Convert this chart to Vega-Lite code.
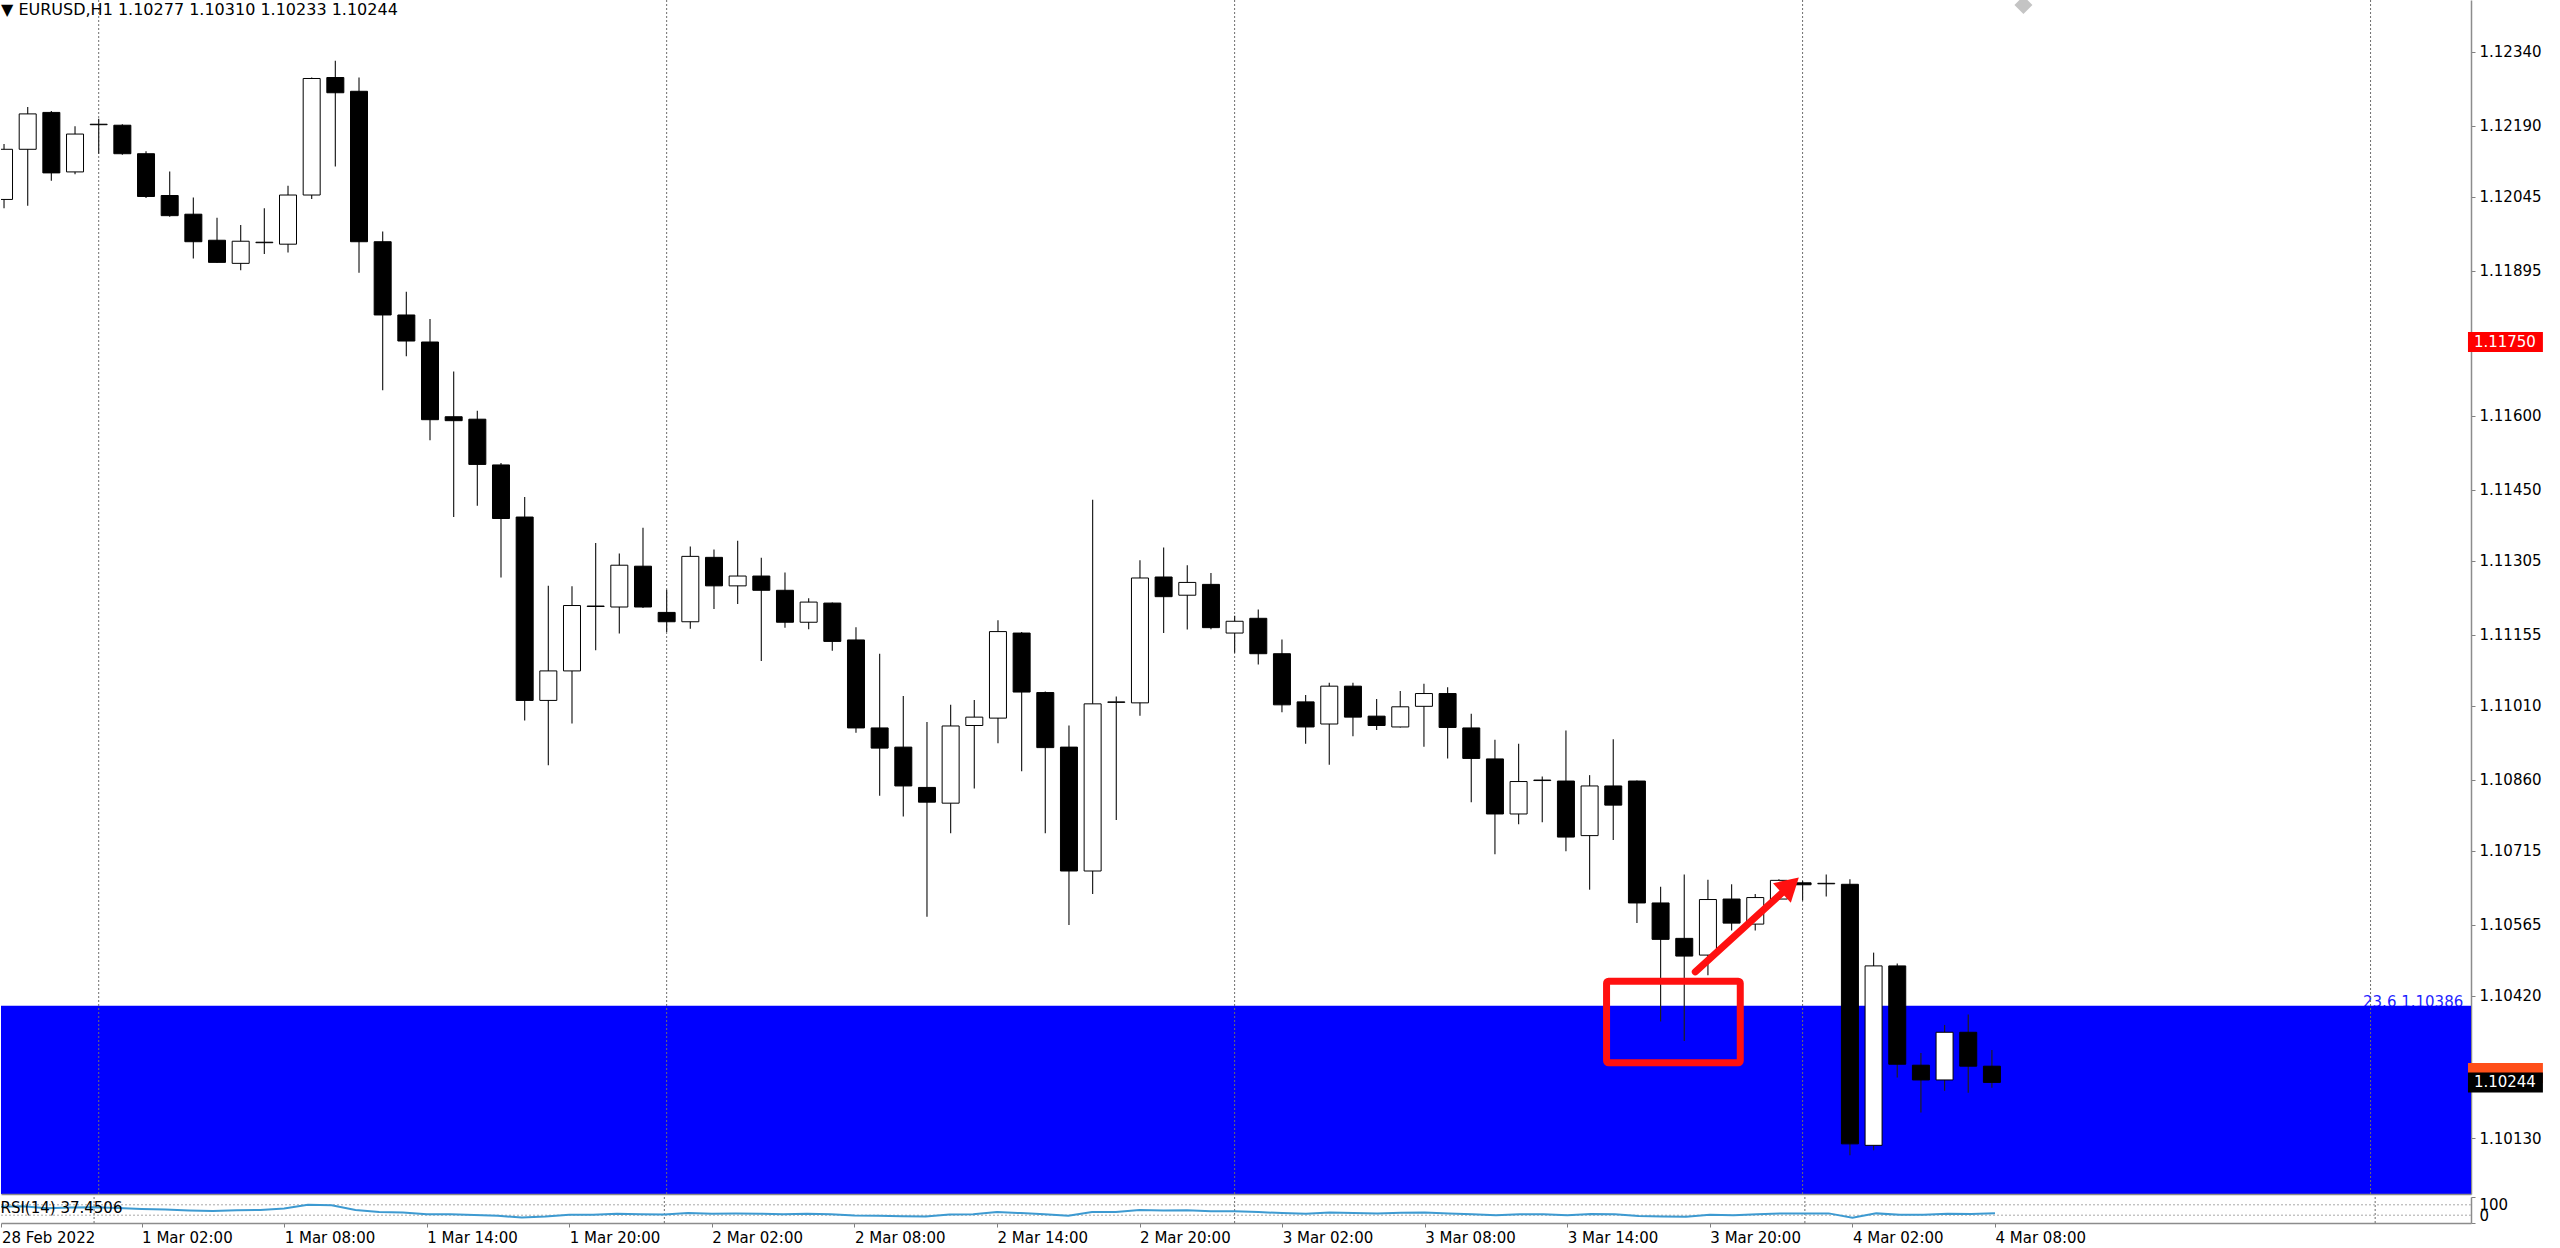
{
  "$schema": "https://vega.github.io/schema/vega-lite/v6.json",
  "background": "#ffffff",
  "padding": 0,
  "spacing": 2,
  "config": {
    "view": {"stroke": null},
    "font": "DejaVu Sans",
    "axis": {"labelFont": "DejaVu Sans", "labelFontSize": 15, "labelColor": "#000000", "tickColor": "#808080", "domainColor": "#8c8c8c", "grid": false}
  },
  "datasets": {
    "candles": [
      {"time": "2022-02-28T20:00:00Z", "open": 1.12040, "high": 1.12153, "low": 1.12022, "close": 1.12142, "rsi": 62},
      {"time": "2022-02-28T21:00:00Z", "open": 1.12142, "high": 1.12228, "low": 1.12027, "close": 1.12214, "rsi": 64},
      {"time": "2022-02-28T22:00:00Z", "open": 1.12217, "high": 1.12220, "low": 1.12078, "close": 1.12094, "rsi": 57},
      {"time": "2022-02-28T23:00:00Z", "open": 1.12096, "high": 1.12189, "low": 1.12091, "close": 1.12173, "rsi": 60},
      {"time": "2022-03-01T00:00:00Z", "open": 1.12192, "high": 1.12204, "low": 1.12133, "close": 1.12193, "rsi": 61},
      {"time": "2022-03-01T01:00:00Z", "open": 1.12191, "high": 1.12193, "low": 1.12131, "close": 1.12133, "rsi": 58},
      {"time": "2022-03-01T02:00:00Z", "open": 1.12133, "high": 1.12138, "low": 1.12043, "close": 1.12046, "rsi": 54},
      {"time": "2022-03-01T03:00:00Z", "open": 1.12048, "high": 1.12097, "low": 1.12005, "close": 1.12007, "rsi": 52},
      {"time": "2022-03-01T04:00:00Z", "open": 1.12010, "high": 1.12044, "low": 1.11920, "close": 1.11954, "rsi": 48},
      {"time": "2022-03-01T05:00:00Z", "open": 1.11957, "high": 1.12003, "low": 1.11911, "close": 1.11912, "rsi": 46},
      {"time": "2022-03-01T06:00:00Z", "open": 1.11910, "high": 1.11988, "low": 1.11896, "close": 1.11955, "rsi": 49},
      {"time": "2022-03-01T07:00:00Z", "open": 1.11952, "high": 1.12022, "low": 1.11929, "close": 1.11953, "rsi": 50},
      {"time": "2022-03-01T08:00:00Z", "open": 1.11949, "high": 1.12068, "low": 1.11932, "close": 1.12049, "rsi": 56},
      {"time": "2022-03-01T09:00:00Z", "open": 1.12049, "high": 1.12288, "low": 1.12041, "close": 1.12286, "rsi": 70},
      {"time": "2022-03-01T10:00:00Z", "open": 1.12288, "high": 1.12322, "low": 1.12107, "close": 1.12257, "rsi": 68},
      {"time": "2022-03-01T11:00:00Z", "open": 1.12260, "high": 1.12288, "low": 1.11891, "close": 1.11954, "rsi": 50},
      {"time": "2022-03-01T12:00:00Z", "open": 1.11954, "high": 1.11975, "low": 1.11652, "close": 1.11805, "rsi": 42},
      {"time": "2022-03-01T13:00:00Z", "open": 1.11805, "high": 1.11852, "low": 1.11721, "close": 1.11752, "rsi": 40},
      {"time": "2022-03-01T14:00:00Z", "open": 1.11750, "high": 1.11797, "low": 1.11550, "close": 1.11592, "rsi": 34},
      {"time": "2022-03-01T15:00:00Z", "open": 1.11598, "high": 1.11690, "low": 1.11394, "close": 1.11590, "rsi": 34},
      {"time": "2022-03-01T16:00:00Z", "open": 1.11593, "high": 1.11610, "low": 1.11417, "close": 1.11501, "rsi": 31},
      {"time": "2022-03-01T17:00:00Z", "open": 1.11500, "high": 1.11504, "low": 1.11271, "close": 1.11391, "rsi": 28},
      {"time": "2022-03-01T18:00:00Z", "open": 1.11394, "high": 1.11435, "low": 1.10980, "close": 1.11021, "rsi": 21},
      {"time": "2022-03-01T19:00:00Z", "open": 1.11021, "high": 1.11254, "low": 1.10889, "close": 1.11081, "rsi": 25},
      {"time": "2022-03-01T20:00:00Z", "open": 1.11081, "high": 1.11253, "low": 1.10974, "close": 1.11214, "rsi": 32},
      {"time": "2022-03-01T21:00:00Z", "open": 1.11212, "high": 1.11341, "low": 1.11123, "close": 1.11213, "rsi": 32},
      {"time": "2022-03-01T22:00:00Z", "open": 1.11211, "high": 1.11320, "low": 1.11157, "close": 1.11296, "rsi": 36},
      {"time": "2022-03-01T23:00:00Z", "open": 1.11294, "high": 1.11372, "low": 1.11209, "close": 1.11211, "rsi": 34},
      {"time": "2022-03-02T00:00:00Z", "open": 1.11200, "high": 1.11246, "low": 1.11160, "close": 1.11181, "rsi": 33},
      {"time": "2022-03-02T01:00:00Z", "open": 1.11181, "high": 1.11334, "low": 1.11167, "close": 1.11314, "rsi": 38},
      {"time": "2022-03-02T02:00:00Z", "open": 1.11312, "high": 1.11328, "low": 1.11207, "close": 1.11254, "rsi": 36},
      {"time": "2022-03-02T03:00:00Z", "open": 1.11254, "high": 1.11346, "low": 1.11217, "close": 1.11274, "rsi": 37},
      {"time": "2022-03-02T04:00:00Z", "open": 1.11274, "high": 1.11311, "low": 1.11101, "close": 1.11245, "rsi": 36},
      {"time": "2022-03-02T05:00:00Z", "open": 1.11245, "high": 1.11281, "low": 1.11169, "close": 1.11180, "rsi": 34},
      {"time": "2022-03-02T06:00:00Z", "open": 1.11180, "high": 1.11229, "low": 1.11166, "close": 1.11221, "rsi": 36},
      {"time": "2022-03-02T07:00:00Z", "open": 1.11219, "high": 1.11220, "low": 1.11122, "close": 1.11141, "rsi": 34},
      {"time": "2022-03-02T08:00:00Z", "open": 1.11144, "high": 1.11170, "low": 1.10955, "close": 1.10965, "rsi": 29},
      {"time": "2022-03-02T09:00:00Z", "open": 1.10965, "high": 1.11116, "low": 1.10827, "close": 1.10924, "rsi": 28},
      {"time": "2022-03-02T10:00:00Z", "open": 1.10926, "high": 1.11030, "low": 1.10785, "close": 1.10847, "rsi": 26},
      {"time": "2022-03-02T11:00:00Z", "open": 1.10844, "high": 1.10977, "low": 1.10581, "close": 1.10814, "rsi": 25},
      {"time": "2022-03-02T12:00:00Z", "open": 1.10812, "high": 1.11012, "low": 1.10751, "close": 1.10969, "rsi": 33},
      {"time": "2022-03-02T13:00:00Z", "open": 1.10970, "high": 1.11022, "low": 1.10842, "close": 1.10987, "rsi": 34},
      {"time": "2022-03-02T14:00:00Z", "open": 1.10985, "high": 1.11184, "low": 1.10934, "close": 1.11161, "rsi": 42},
      {"time": "2022-03-02T15:00:00Z", "open": 1.11158, "high": 1.11160, "low": 1.10877, "close": 1.11038, "rsi": 38},
      {"time": "2022-03-02T16:00:00Z", "open": 1.11037, "high": 1.11039, "low": 1.10751, "close": 1.10925, "rsi": 34},
      {"time": "2022-03-02T17:00:00Z", "open": 1.10926, "high": 1.10970, "low": 1.10564, "close": 1.10674, "rsi": 28},
      {"time": "2022-03-02T18:00:00Z", "open": 1.10674, "high": 1.11429, "low": 1.10627, "close": 1.11014, "rsi": 42},
      {"time": "2022-03-02T19:00:00Z", "open": 1.11017, "high": 1.11029, "low": 1.10778, "close": 1.11018, "rsi": 42},
      {"time": "2022-03-02T20:00:00Z", "open": 1.11016, "high": 1.11306, "low": 1.10990, "close": 1.11270, "rsi": 50},
      {"time": "2022-03-02T21:00:00Z", "open": 1.11272, "high": 1.11332, "low": 1.11158, "close": 1.11232, "rsi": 48},
      {"time": "2022-03-02T22:00:00Z", "open": 1.11235, "high": 1.11296, "low": 1.11165, "close": 1.11261, "rsi": 49},
      {"time": "2022-03-02T23:00:00Z", "open": 1.11257, "high": 1.11280, "low": 1.11166, "close": 1.11169, "rsi": 45},
      {"time": "2022-03-03T00:00:00Z", "open": 1.11158, "high": 1.11193, "low": 1.11118, "close": 1.11182, "rsi": 45},
      {"time": "2022-03-03T01:00:00Z", "open": 1.11188, "high": 1.11206, "low": 1.11094, "close": 1.11116, "rsi": 42},
      {"time": "2022-03-03T02:00:00Z", "open": 1.11116, "high": 1.11145, "low": 1.10997, "close": 1.11012, "rsi": 38},
      {"time": "2022-03-03T03:00:00Z", "open": 1.11018, "high": 1.11032, "low": 1.10933, "close": 1.10967, "rsi": 36},
      {"time": "2022-03-03T04:00:00Z", "open": 1.10973, "high": 1.11057, "low": 1.10890, "close": 1.11050, "rsi": 40},
      {"time": "2022-03-03T05:00:00Z", "open": 1.11050, "high": 1.11057, "low": 1.10948, "close": 1.10987, "rsi": 38},
      {"time": "2022-03-03T06:00:00Z", "open": 1.10989, "high": 1.11024, "low": 1.10961, "close": 1.10970, "rsi": 37},
      {"time": "2022-03-03T07:00:00Z", "open": 1.10967, "high": 1.11040, "low": 1.10966, "close": 1.11008, "rsi": 39},
      {"time": "2022-03-03T08:00:00Z", "open": 1.11009, "high": 1.11055, "low": 1.10927, "close": 1.11035, "rsi": 40},
      {"time": "2022-03-03T09:00:00Z", "open": 1.11035, "high": 1.11048, "low": 1.10903, "close": 1.10966, "rsi": 37},
      {"time": "2022-03-03T10:00:00Z", "open": 1.10965, "high": 1.10994, "low": 1.10814, "close": 1.10903, "rsi": 34},
      {"time": "2022-03-03T11:00:00Z", "open": 1.10902, "high": 1.10941, "low": 1.10708, "close": 1.10790, "rsi": 30},
      {"time": "2022-03-03T12:00:00Z", "open": 1.10790, "high": 1.10933, "low": 1.10769, "close": 1.10856, "rsi": 34},
      {"time": "2022-03-03T13:00:00Z", "open": 1.10858, "high": 1.10866, "low": 1.10773, "close": 1.10859, "rsi": 34},
      {"time": "2022-03-03T14:00:00Z", "open": 1.10857, "high": 1.10960, "low": 1.10714, "close": 1.10743, "rsi": 30},
      {"time": "2022-03-03T15:00:00Z", "open": 1.10746, "high": 1.10869, "low": 1.10636, "close": 1.10847, "rsi": 35},
      {"time": "2022-03-03T16:00:00Z", "open": 1.10847, "high": 1.10942, "low": 1.10737, "close": 1.10808, "rsi": 34},
      {"time": "2022-03-03T17:00:00Z", "open": 1.10857, "high": 1.10858, "low": 1.10568, "close": 1.10609, "rsi": 27},
      {"time": "2022-03-03T18:00:00Z", "open": 1.10609, "high": 1.10642, "low": 1.10368, "close": 1.10535, "rsi": 25},
      {"time": "2022-03-03T19:00:00Z", "open": 1.10537, "high": 1.10667, "low": 1.10328, "close": 1.10501, "rsi": 24},
      {"time": "2022-03-03T20:00:00Z", "open": 1.10503, "high": 1.10656, "low": 1.10462, "close": 1.10616, "rsi": 32},
      {"time": "2022-03-03T21:00:00Z", "open": 1.10617, "high": 1.10647, "low": 1.10553, "close": 1.10568, "rsi": 30},
      {"time": "2022-03-03T22:00:00Z", "open": 1.10566, "high": 1.10627, "low": 1.10553, "close": 1.10620, "rsi": 34},
      {"time": "2022-03-03T23:00:00Z", "open": 1.10617, "high": 1.10657, "low": 1.10615, "close": 1.10655, "rsi": 37},
      {"time": "2022-03-04T00:00:00Z", "open": 1.10650, "high": 1.10654, "low": 1.10614, "close": 1.10646, "rsi": 37},
      {"time": "2022-03-04T01:00:00Z", "open": 1.10648, "high": 1.10667, "low": 1.10622, "close": 1.10649, "rsi": 37},
      {"time": "2022-03-04T02:00:00Z", "open": 1.10647, "high": 1.10657, "low": 1.10096, "close": 1.10119, "rsi": 20},
      {"time": "2022-03-04T03:00:00Z", "open": 1.10116, "high": 1.10508, "low": 1.10106, "close": 1.10481, "rsi": 37},
      {"time": "2022-03-04T04:00:00Z", "open": 1.10481, "high": 1.10486, "low": 1.10254, "close": 1.10281, "rsi": 32},
      {"time": "2022-03-04T05:00:00Z", "open": 1.10279, "high": 1.10304, "low": 1.10183, "close": 1.10249, "rsi": 32},
      {"time": "2022-03-04T06:00:00Z", "open": 1.10249, "high": 1.10361, "low": 1.10227, "close": 1.10346, "rsi": 36},
      {"time": "2022-03-04T07:00:00Z", "open": 1.10346, "high": 1.10382, "low": 1.10223, "close": 1.10277, "rsi": 35},
      {"time": "2022-03-04T08:00:00Z", "open": 1.10277, "high": 1.10310, "low": 1.10233, "close": 1.10244, "rsi": 37.4506}
    ],
    "days": [
      {"time": "2022-03-01T00:00:00Z"},
      {"time": "2022-03-02T00:00:00Z"},
      {"time": "2022-03-03T00:00:00Z"},
      {"time": "2022-03-04T00:00:00Z"},
      {"time": "2022-03-05T00:00:00Z"}
    ],
    "pricelabels": [
      {"price": 1.11750, "kind": "level"},
      {"price": 1.10263, "kind": "ask"},
      {"price": 1.10244, "kind": "bid"}
    ]
  },
  "vconcat": [
    {
      "width": 2470,
      "height": 1194,
      "title": {"text": "▼ EURUSD,H1  1.10277 1.10310 1.10233 1.10244", "anchor": "start", "offset": -18, "fontSize": 16, "fontWeight": "normal", "color": "#000000", "font": "DejaVu Sans"},
      "layer": [
        {
          "data": {"values": [{"time": "2022-03-05T03:55:00Z", "price": 1.10398, "label": "23.6 1.10386"}]},
          "mark": {"type": "text", "align": "right", "baseline": "alphabetic", "fontSize": 15, "color": "#1f1fff"},
          "encoding": {
            "x": {"field": "time", "type": "temporal", "title": null,
              "scale": {"type": "utc", "nice": false, "domain": [{"year": 2022, "month": 2, "date": 28, "hours": 20, "minutes": 5, "utc": true}, {"year": 2022, "month": 3, "date": 5, "hours": 4, "minutes": 2, "utc": true}]},
              "axis": {"labels": false, "ticks": false, "domain": true, "domainWidth": 1.5, "grid": false, "title": null, "zindex": 1}},
            "y": {"field": "price", "type": "quantitative", "title": null,
              "scale": {"domain": [1.100272, 1.124355], "nice": false, "zero": false},
              "axis": {"orient": "right", "values": [1.1234, 1.1219, 1.12045, 1.11895, 1.116, 1.1145, 1.11305, 1.11155, 1.1101, 1.1086, 1.10715, 1.10565, 1.1042, 1.1013], "format": ".5f", "tickSize": 4, "labelPadding": 4, "domainWidth": 1.5, "grid": false, "labelOverlap": false, "labelFlush": false, "labelBound": false, "title": null}},
            "text": {"field": "label"}
          }
        },
        {
          "data": {"values": [{"start": "2022-02-28T00:00:00Z", "end": "2022-03-06T00:00:00Z", "top": 1.10400, "bottom": 1.09900}]},
          "mark": {"type": "rect", "color": "#0000ff", "clip": true},
          "encoding": {
            "x": {"field": "start", "type": "temporal", "title": null},
            "x2": {"field": "end"},
            "y": {"field": "top", "type": "quantitative", "title": null},
            "y2": {"field": "bottom"}
          }
        },
        {
          "data": {"name": "days"},
          "mark": {"type": "rule", "color": "#6e6e6e", "strokeWidth": 1, "strokeDash": [2, 2], "clip": true},
          "encoding": {"x": {"field": "time", "type": "temporal", "title": null}}
        },
        {
          "mark": {"type": "rule", "color": "#ff0000", "strokeWidth": 2.5},
          "encoding": {"y": {"datum": 1.1175, "type": "quantitative"}}
        },
        {
          "mark": {"type": "rule", "color": "#e8607c", "strokeWidth": 1},
          "encoding": {"y": {"datum": 1.10263, "type": "quantitative"}}
        },
        {
          "mark": {"type": "rule", "color": "#c8c8d8", "strokeWidth": 1},
          "encoding": {"y": {"datum": 1.10244, "type": "quantitative"}}
        },
        {
          "data": {"name": "candles"},
          "mark": {"type": "rule", "color": "#202020", "strokeWidth": 1.2, "clip": true},
          "encoding": {
            "x": {"field": "time", "type": "temporal", "title": null},
            "y": {"field": "low", "type": "quantitative", "title": null},
            "y2": {"field": "high"}
          }
        },
        {
          "data": {"name": "candles"},
          "mark": {"type": "bar", "width": 17, "stroke": "#000000", "strokeWidth": 1, "clip": true},
          "encoding": {
            "x": {"field": "time", "type": "temporal", "title": null},
            "y": {"field": "open", "type": "quantitative", "title": null},
            "y2": {"field": "close"},
            "fill": {"condition": {"test": "datum.close >= datum.open", "value": "#ffffff"}, "value": "#000000"}
          }
        },
        {
          "mark": {"type": "rule", "color": "#0000ff", "strokeWidth": 2},
          "encoding": {"y": {"datum": 1.10386, "type": "quantitative"}}
        },
        {
          "data": {"values": [{"start": "2022-03-03T15:43:00Z", "end": "2022-03-03T21:22:00Z", "top": 1.10450, "bottom": 1.10284}]},
          "mark": {"type": "rect", "fillOpacity": 0, "stroke": "#ff1010", "strokeWidth": 7, "cornerRadius": 2},
          "encoding": {
            "x": {"field": "start", "type": "temporal", "title": null},
            "x2": {"field": "end"},
            "y": {"field": "top", "type": "quantitative", "title": null},
            "y2": {"field": "bottom"}
          }
        },
        {
          "data": {"values": [{"t0": "2022-03-03T19:28:00Z", "p0": 1.10469, "t1": "2022-03-03T23:29:00Z", "p1": 1.10645}]},
          "mark": {"type": "rule", "color": "#ff1010", "strokeWidth": 7, "strokeCap": "round"},
          "encoding": {
            "x": {"field": "t0", "type": "temporal", "title": null},
            "x2": {"field": "t1"},
            "y": {"field": "p0", "type": "quantitative", "title": null},
            "y2": {"field": "p1"}
          }
        },
        {
          "data": {"values": [{"t1": "2022-03-03T23:29:00Z", "p1": 1.10645}]},
          "mark": {"type": "point", "shape": "triangle-up", "filled": true, "color": "#ff1010", "opacity": 1, "size": 700, "angle": 47.6},
          "encoding": {
            "x": {"field": "t1", "type": "temporal", "title": null},
            "y": {"field": "p1", "type": "quantitative", "title": null}
          }
        },
        {
          "data": {"values": [{"time": "2022-03-04T09:20:00Z", "price": 1.124355}]},
          "mark": {"type": "point", "shape": "diamond", "filled": true, "color": "#c4c4c4", "opacity": 1, "size": 324, "clip": true},
          "encoding": {
            "x": {"field": "time", "type": "temporal", "title": null},
            "y": {"field": "price", "type": "quantitative", "title": null}
          }
        },
        {
          "data": {"name": "pricelabels"},
          "mark": {"type": "bar", "orient": "horizontal", "height": 20},
          "encoding": {
            "x": {"datum": {"year": 2022, "month": 3, "date": 5, "hours": 4, "minutes": 7, "utc": true}, "type": "temporal", "title": null},
            "x2": {"datum": {"year": 2022, "month": 3, "date": 5, "hours": 7, "minutes": 17, "utc": true}},
            "y": {"field": "price", "type": "quantitative", "title": null},
            "color": {"field": "kind", "type": "nominal", "scale": {"domain": ["level", "ask", "bid"], "range": ["#ff0000", "#ff4f1a", "#000000"]}, "legend": null}
          }
        },
        {
          "data": {"name": "pricelabels"},
          "transform": [{"filter": "datum.kind != 'ask'"}],
          "mark": {"type": "text", "align": "left", "baseline": "middle", "fontSize": 15, "color": "#ffffff"},
          "encoding": {
            "x": {"datum": {"year": 2022, "month": 3, "date": 5, "hours": 4, "minutes": 22, "utc": true}, "type": "temporal", "title": null},
            "y": {"field": "price", "type": "quantitative", "title": null},
            "text": {"field": "price", "type": "quantitative", "format": ".5f"}
          }
        }
      ]
    },
    {
      "width": 2470,
      "height": 26,
      "title": {"text": "RSI(14) 37.4506", "anchor": "start", "offset": -19, "fontSize": 15, "fontWeight": "normal", "color": "#000000", "font": "DejaVu Sans"},
      "layer": [
        {
          "data": {"name": "days"},
          "mark": {"type": "rule", "color": "#6e6e6e", "strokeWidth": 1, "strokeDash": [2, 2], "clip": true},
          "encoding": {
            "x": {"field": "time", "type": "temporal", "title": null,
              "scale": {"type": "utc", "nice": false, "domain": [{"year": 2022, "month": 2, "date": 28, "hours": 20, "minutes": 5, "utc": true}, {"year": 2022, "month": 3, "date": 5, "hours": 4, "minutes": 2, "utc": true}]},
              "axis": {"values": [
                {"year": 2022, "month": 2, "date": 28, "hours": 20, "minutes": 6, "utc": true},
                {"year": 2022, "month": 3, "date": 1, "hours": 2, "utc": true},
                {"year": 2022, "month": 3, "date": 1, "hours": 8, "utc": true},
                {"year": 2022, "month": 3, "date": 1, "hours": 14, "utc": true},
                {"year": 2022, "month": 3, "date": 1, "hours": 20, "utc": true},
                {"year": 2022, "month": 3, "date": 2, "hours": 2, "utc": true},
                {"year": 2022, "month": 3, "date": 2, "hours": 8, "utc": true},
                {"year": 2022, "month": 3, "date": 2, "hours": 14, "utc": true},
                {"year": 2022, "month": 3, "date": 2, "hours": 20, "utc": true},
                {"year": 2022, "month": 3, "date": 3, "hours": 2, "utc": true},
                {"year": 2022, "month": 3, "date": 3, "hours": 8, "utc": true},
                {"year": 2022, "month": 3, "date": 3, "hours": 14, "utc": true},
                {"year": 2022, "month": 3, "date": 3, "hours": 20, "utc": true},
                {"year": 2022, "month": 3, "date": 4, "hours": 2, "utc": true},
                {"year": 2022, "month": 3, "date": 4, "hours": 8, "utc": true}
              ],
              "labelExpr": "datum.value < 1646092800000 ? '28 Feb 2022' : utcFormat(datum.value, '%-d %b %H:%M')",
              "labelAlign": "left", "labelBaseline": "top", "labelPadding": 3, "tickSize": 4, "labelFlush": false, "labelOverlap": false, "labelBound": false, "domainWidth": 1.5, "grid": false, "title": null}}
          }
        },
        {
          "data": {"values": [{"level": 70}, {"level": 30}]},
          "mark": {"type": "rule", "color": "#a8a8a8", "strokeWidth": 1, "strokeDash": [2, 2]},
          "encoding": {
            "y": {"field": "level", "type": "quantitative", "title": null,
              "scale": {"domain": [0, 100], "nice": false},
              "axis": {"orient": "right", "values": [0, 30, 70, 100], "tickSize": 4, "labelPadding": 4, "labelFlush": true, "labelOverlap": false, "domainWidth": 1.5, "grid": false, "title": null}}
          }
        },
        {
          "data": {"name": "candles"},
          "mark": {"type": "line", "color": "#3d9ad1", "strokeWidth": 2, "clip": true},
          "encoding": {
            "x": {"field": "time", "type": "temporal", "title": null},
            "y": {"field": "rsi", "type": "quantitative", "title": null}
          }
        }
      ]
    }
  ]
}
